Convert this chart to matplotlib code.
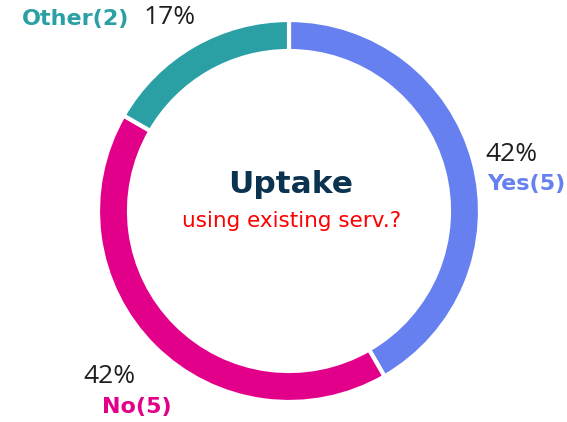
import matplotlib
matplotlib.use("Agg")
import matplotlib.pyplot as plt

labels = ["Yes(5)", "No(5)", "Other(2)"]
counts = [5, 5, 2]
pct_labels = ["42%", "42%", "17%"]
colors = ["#6680F0", "#E2008A", "#2AA0A5"]
title = "Uptake"
subtitle = "using existing serv.?"

W, H = 567, 422
fig = plt.figure(figsize=(W / 100, H / 100), dpi=100)
ax = fig.add_axes([0, 0, 1, 1])

cx, cy = 289, H - 211
R = 191
ax.pie(counts, colors=colors, startangle=90, counterclock=False,
       center=(cx, cy), radius=R, frame=True,
       wedgeprops=dict(width=31, edgecolor="white", linewidth=3))
ax.set_xlim(0, W)
ax.set_ylim(0, H)
ax.set_aspect("equal")
ax.axis("off")

pct_font = dict(family=["Open Sans", "DejaVu Sans"], fontsize=19, color="#1E1E1E")
lab_font = dict(family="DejaVu Sans", fontsize=16, fontweight="bold")

# Yes
ax.text(485, H - 161, pct_labels[0], ha="left", va="baseline", **pct_font)
ax.text(487, H - 190, labels[0], ha="left", va="baseline", color=colors[0], **lab_font)
# No
ax.text(83, H - 383, pct_labels[1], ha="left", va="baseline", **pct_font)
ax.text(102, H - 413, labels[1], ha="left", va="baseline", color=colors[1], **lab_font)
# Other
ax.text(22, H - 25, labels[2], ha="left", va="baseline", color=colors[2], **lab_font)
ax.text(144, H - 24, pct_labels[2], ha="left", va="baseline", **pct_font)

ax.text(cx + 2, H - 193, title, ha="center", va="baseline", fontsize=22.5,
        fontweight="bold", color="#0B3350", family="DejaVu Sans")
ax.text(cx + 3, H - 227, subtitle, ha="center", va="baseline", fontsize=15.5,
        color="#FF0000", family="DejaVu Sans")

fig.savefig("out.png", dpi=100)
